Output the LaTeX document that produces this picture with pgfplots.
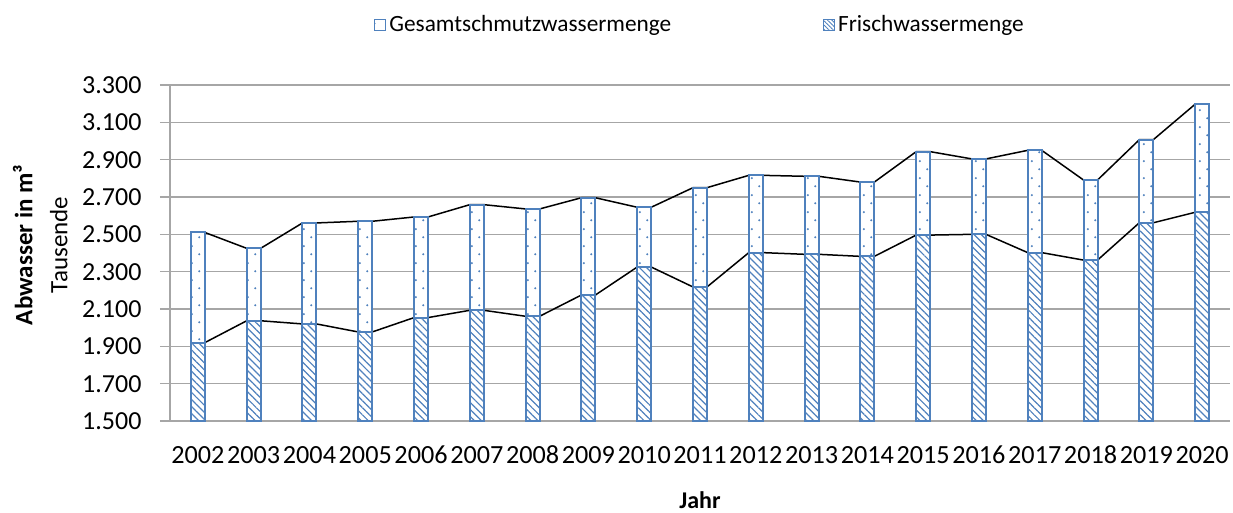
\documentclass[border=0pt]{standalone}
\usepackage{pgfplots}
\pgfplotsset{compat=1.18}
\usepackage{fontspec}
\setmainfont{Carlito}
\usetikzlibrary{patterns,patterns.meta}
\definecolor{xblue}{HTML}{4F81BD}
\definecolor{xgrid}{HTML}{A6A6A6}
\tikzdeclarepattern{name=sparsedots, type=uncolored,
  bounding box={(0pt,0pt) and (14pt,17pt)}, tile size={(14pt,17pt)},
  code={\fill (3.5pt,4pt) circle (1.2pt); \fill (10.5pt,12.5pt) circle (1.2pt);}}
\begin{document}
\begin{tikzpicture}
\useasboundingbox (-170pt,-91pt) rectangle (1063pt,421pt);
\begin{axis}[
  at={(0pt,0pt)}, anchor=south west,
  scale only axis, width=1060pt, height=336pt,
  xmin=-0.5, xmax=18.5, ymin=1500, ymax=3300,
  ytick={1500,1700,1900,2100,2300,2500,2700,2900,3100,3300},
  xtick={0,...,18},
  xticklabels={2002,2003,2004,2005,2006,2007,2008,2009,2010,2011,2012,2013,2014,2015,2016,2017,2018,2019,2020},
  axis x line*=bottom, axis y line*=left,
  axis line style={xgrid, line width=2pt},
  ymajorgrids, grid style={xgrid, line width=1.5pt},
  tick align=outside, major tick length=10pt,
  ytick style={xgrid, line width=1.5pt}, xtick style={draw=none},
  /pgf/number format/fixed, /pgf/number format/1000 sep={.},
  /pgf/number format/assume math mode=true,
  yticklabel style={font=\fontsize{26}{30}\selectfont, anchor=east, xshift=-15pt},
  xticklabel style={font=\fontsize{26.2}{30}\selectfont, anchor=base, yshift=-32pt},
  ylabel={\textbf{Abwasser in m³}\\Tausende},
  ylabel style={align=center, font=\fontsize{25}{35}\selectfont, at={(axis description cs:-0.1225,0.524)}, anchor=center},
  xlabel={\textbf{Jahr}},
  xlabel style={font=\fontsize{24}{27}\selectfont, at={(axis description cs:0.5,-0.235)}, anchor=center},
  legend style={at={(0.5,1.18)}, anchor=center, draw=none, fill=none,
    font=\fontsize{23.3}{27}\selectfont, legend columns=2,
    /tikz/every odd column/.append style={column sep=1pt},
    /tikz/every even column/.append style={column sep=150pt}},
]
% series lines
\addplot[black, line width=1.5pt, forget plot] coordinates {
(-0.125,2510)(0.125,2510)(0.875,2425)(1.125,2425)(1.875,2561)(2.125,2561)(2.875,2570)(3.125,2570)(3.875,2593)(4.125,2593)(4.875,2659)(5.125,2659)(5.875,2636)(6.125,2636)(6.875,2696)(7.125,2696)(7.875,2645)(8.125,2645)(8.875,2750)(9.125,2750)(9.875,2816)(10.125,2816)(10.875,2811)(11.125,2811)(11.875,2780)(12.125,2780)(12.875,2943)(13.125,2943)(13.875,2904)(14.125,2904)(14.875,2950)(15.125,2950)(15.875,2791)(16.125,2791)(16.875,3007)(17.125,3007)(17.875,3197)(18.125,3197)};
\addplot[black, line width=1.5pt, forget plot] coordinates {
(-0.125,1920)(0.125,1920)(0.875,2037)(1.125,2037)(1.875,2020)(2.125,2020)(2.875,1977)(3.125,1977)(3.875,2054)(4.125,2054)(4.875,2093)(5.125,2093)(5.875,2061)(6.125,2061)(6.875,2175)(7.125,2175)(7.875,2325)(8.125,2325)(8.875,2218)(9.125,2218)(9.875,2402)(10.125,2402)(10.875,2393)(11.125,2393)(11.875,2382)(12.125,2382)(12.875,2496)(13.125,2496)(13.875,2500)(14.125,2500)(14.875,2402)(15.125,2402)(15.875,2362)(16.125,2362)(16.875,2562)(17.125,2562)(17.875,2618)(18.125,2618)};
% Gesamtschmutzwassermenge
\addplot[ybar, bar width=14pt, bar shift=0pt, draw=none, fill=white, forget plot] coordinates {
(0,2510)(1,2425)(2,2561)(3,2570)(4,2593)(5,2659)(6,2636)(7,2696)(8,2645)(9,2750)(10,2816)(11,2811)(12,2780)(13,2943)(14,2904)(15,2950)(16,2791)(17,3007)(18,3197)};
\addplot[ybar, bar width=14pt, bar shift=0pt, draw=xblue, line width=2pt, pattern=sparsedots, pattern color=xblue,
  legend image code/.code={\draw[draw=xblue, line width=1pt, pattern=sparsedots, pattern color=xblue] (0pt,-5.5pt) rectangle (11pt,5.5pt);}] coordinates {
(0,2510)(1,2425)(2,2561)(3,2570)(4,2593)(5,2659)(6,2636)(7,2696)(8,2645)(9,2750)(10,2816)(11,2811)(12,2780)(13,2943)(14,2904)(15,2950)(16,2791)(17,3007)(18,3197)};
\addlegendentry{Gesamtschmutzwassermenge}
% Frischwassermenge
\addplot[ybar, bar width=14pt, bar shift=0pt, draw=none, fill=white, forget plot] coordinates {
(0,1920)(1,2037)(2,2020)(3,1977)(4,2054)(5,2093)(6,2061)(7,2175)(8,2325)(9,2218)(10,2402)(11,2393)(12,2382)(13,2496)(14,2500)(15,2402)(16,2362)(17,2562)(18,2618)};
\addplot[ybar, bar width=14pt, bar shift=0pt, draw=xblue, line width=2pt, pattern={Lines[angle=-45, distance=5pt, line width=1.2pt]}, pattern color=xblue,
  legend image code/.code={\draw[draw=xblue, line width=1pt, pattern={Lines[angle=-45, distance=3pt, line width=0.8pt]}, pattern color=xblue] (0pt,-5.5pt) rectangle (11pt,5.5pt);}] coordinates {
(0,1920)(1,2037)(2,2020)(3,1977)(4,2054)(5,2093)(6,2061)(7,2175)(8,2325)(9,2218)(10,2402)(11,2393)(12,2382)(13,2496)(14,2500)(15,2402)(16,2362)(17,2562)(18,2618)};
\addlegendentry{Frischwassermenge}
\end{axis}
\end{tikzpicture}
\end{document}
